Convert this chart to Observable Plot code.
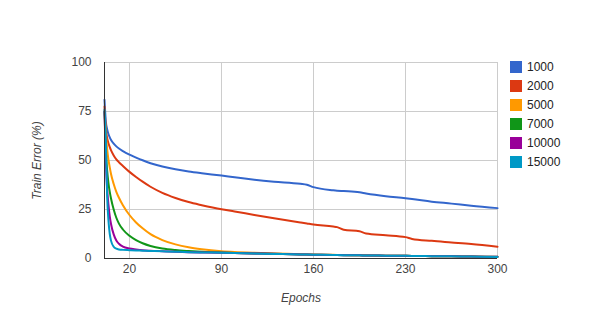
<!DOCTYPE html>
<html>
<head>
<meta charset="utf-8">
<script src="https://cdn.jsdelivr.net/npm/d3@7"></script>
<script src="https://cdn.jsdelivr.net/npm/@observablehq/plot@0.6"></script>
<style>
  html, body { margin: 0; padding: 0; background: #fff; }
  #wrap { position: relative; width: 602px; height: 320px; font-family: Arial, "Liberation Sans", sans-serif; }
  #legend { position: absolute; left: 510px; top: 57px; font-size: 12px; color: #222; }
  .item { display: flex; align-items: center; height: 19px; }
  .sw { width: 12px; height: 12px; margin-right: 5px; }
  g[aria-label="x-axis label"] text, g[aria-label="y-axis label"] text { font-style: italic; }
</style>
</head>
<body>
<div id="wrap"></div>
<script>
const seriesNames = ["1000", "2000", "5000", "7000", "10000", "15000"];
const colors = ["#3366cc", "#dc3912", "#ff9900", "#109618", "#990099", "#0099c6"];
const epochs   = [1,2,3,4,5,6,8,10,12,15,20,25,30,36,45,55,65,75,90,100,115,130,150,155,160,175,178,183,195,200,215,230,235,250,265,280,300];
const err1000  = [81,70,66,63.5,61.8,60.5,58.6,57.2,56.1,54.8,53,51.5,50.1,48.6,46.9,45.5,44.4,43.5,42.3,41.4,40.2,39.2,38.1,37.6,36.4,34.8,34.6,34.4,33.8,33.2,31.8,30.8,30.4,29,28,26.9,25.7];
const err2000  = [77.5,66,61.5,58.8,56.8,55.2,52.6,50.6,49.1,47.2,44.2,41.6,39.2,36.6,33.5,30.9,28.8,27.2,25.1,24.0,22.2,20.5,18.4,17.9,17.4,16.3,16.0,14.7,13.9,12.8,11.9,10.9,10.0,9.0,8.2,7.4,6.0];
const err5000  = [75,64,56,50.5,46.5,43,38,34,31,27.2,22.2,18.4,15.4,12.4,9.4,7.2,5.7,4.7,3.7,3.3,2.9,2.6,2.2,2.1,2.0,1.85,1.8,1.75,1.65,1.6,1.45,1.35,1.3,1.2,1.1,1.0,0.8];
const err7000  = [75,55,45,38.5,34,30.5,25,20.8,17.8,14.8,11.6,9.4,7.8,6.4,5.1,4.3,3.8,3.4,3.0,2.8,2.6,2.4,2.1,2.0,1.95,1.8,1.75,1.7,1.6,1.55,1.45,1.35,1.3,1.2,1.1,1.0,0.9];
const err10000 = [75,50,35.5,27.5,21.5,17.5,12.3,9.2,7.5,6.1,5.1,4.6,4.2,3.95,3.7,3.45,3.25,3.1,2.9,2.8,2.6,2.4,2.1,2.0,1.95,1.8,1.75,1.7,1.6,1.55,1.45,1.35,1.3,1.2,1.1,1.0,0.9];
const err15000 = [76,60,32,19.5,12.5,9,6,5,4.6,4.4,4.25,4.1,4.0,3.85,3.65,3.45,3.25,3.1,2.9,2.75,2.55,2.35,2.05,2.0,1.95,1.8,1.75,1.7,1.6,1.55,1.45,1.35,1.3,1.2,1.1,1.0,0.8];
const xTicks = [20, 90, 160, 230, 300];
const yTicks = [0, 25, 50, 75, 100];

const allSeries = [err1000, err2000, err5000, err7000, err10000, err15000];
const data = [];
allSeries.forEach((vals, i) => {
  vals.forEach((v, j) => data.push({series: seriesNames[i], epoch: epochs[j], err: v}));
});

const chart = Plot.plot({
  width: 602,
  height: 320,
  marginLeft: 104,
  marginRight: 105,
  marginTop: 62,
  marginBottom: 62,
  style: {fontFamily: "Arial, 'Liberation Sans', sans-serif", fontSize: "12px", background: "#fff"},
  x: {domain: [1, 300]},
  y: {domain: [0, 100]},
  color: {domain: seriesNames, range: colors},
  marks: [
    Plot.gridX(xTicks, {stroke: "#cccccc", strokeOpacity: 1}),
    Plot.gridY(yTicks.filter(d => d > 0), {stroke: "#cccccc", strokeOpacity: 1}),
    Plot.lineY(data, {x: "epoch", y: "err", z: "series", stroke: "series", strokeWidth: 2, curve: "monotone-x"}),
    Plot.ruleX([1], {stroke: "#333"}),
    Plot.ruleY([0], {stroke: "#333"}),
    Plot.axisX({ticks: xTicks, tickSize: 0, tickPadding: 6, color: "#444", label: "Epochs", labelAnchor: "center", labelArrow: "none", labelOffset: 43}),
    Plot.axisY({ticks: yTicks, tickSize: 0, tickPadding: 13, color: "#444", label: "Train Error (%)", labelAnchor: "center", labelArrow: "none", labelOffset: 72})
  ]
});

const wrap = document.getElementById("wrap");
wrap.appendChild(chart);
const legend = document.createElement("div");
legend.id = "legend";
seriesNames.forEach((name, i) => {
  const item = document.createElement("div");
  item.className = "item";
  const sw = document.createElement("div");
  sw.className = "sw";
  sw.style.background = colors[i];
  const label = document.createElement("span");
  label.textContent = name;
  item.appendChild(sw);
  item.appendChild(label);
  legend.appendChild(item);
});
wrap.appendChild(legend);
</script>
</body>
</html>
